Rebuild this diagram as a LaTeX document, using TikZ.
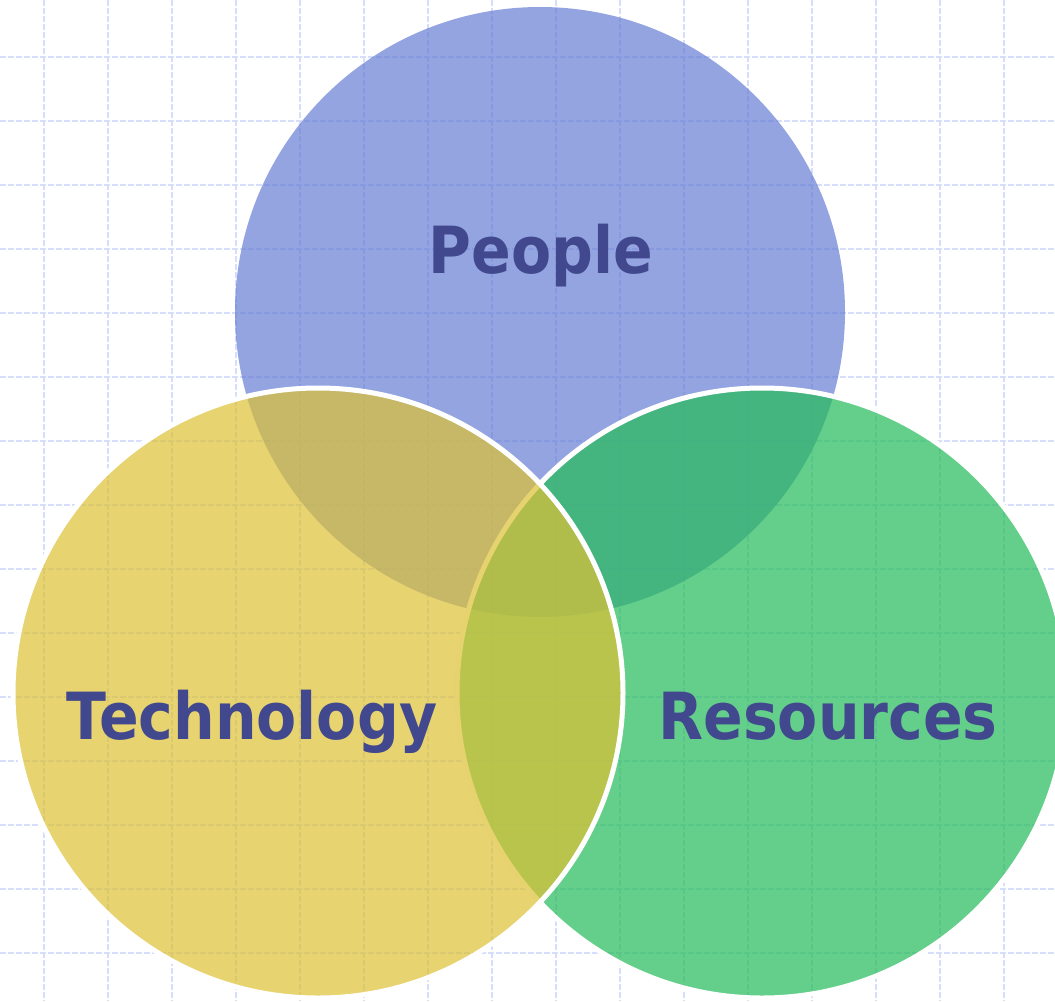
\documentclass[tikz,border=0pt]{standalone}
\usepackage{fontspec}
\usepackage{xcolor}
\usepackage{tikz}
\newfontfamily\labelfont{DejaVu Sans}[FakeStretch=0.9]

\definecolor{peopleblue}{RGB}{104,127,213}
\definecolor{techyellow}{RGB}{221,193,53}
\definecolor{resgreen}{RGB}{37,188,90}
\definecolor{labelink}{RGB}{65,72,142}
\definecolor{gridblue}{RGB}{214,222,252}

\tikzset{
    gridline/.style={gridblue, line width=0.025cm, dash pattern=on 0.12cm off 0.04cm},
    setcircle/.style={fill opacity=0.71, draw=white, line width=0.1cm},
    setlabel/.style={anchor=base, text=labelink, font=\labelfont\bfseries\fontsize{37}{40}\selectfont}
}

\begin{document}
\begin{tikzpicture}[x=0.02cm, y=-0.02cm]
        \useasboundingbox (0,0) rectangle (1055,1001);
        \clip (0,0) rectangle (1055,1001);
        % background grid
        \foreach \x in {44,108,...,1004}
            \draw[gridline] (\x,0) -- (\x,1001);
        \foreach \y in {57,121,...,953}
            \draw[gridline] (0,\y) -- (1055,\y);
        % circles
        \fill[peopleblue, fill opacity=0.71] (540,312) circle (305);
        \filldraw[setcircle, fill=resgreen] (762,693) circle (305);
        \filldraw[setcircle, fill=techyellow] (318,693) circle (305);
        % labels
        \node[setlabel] (people) at (541,273) {People};
        \node[setlabel] (technology) at (252,739) {Technology};
        \node[setlabel] (resources) at (828,739) {Resources};
\end{tikzpicture}
\end{document}
